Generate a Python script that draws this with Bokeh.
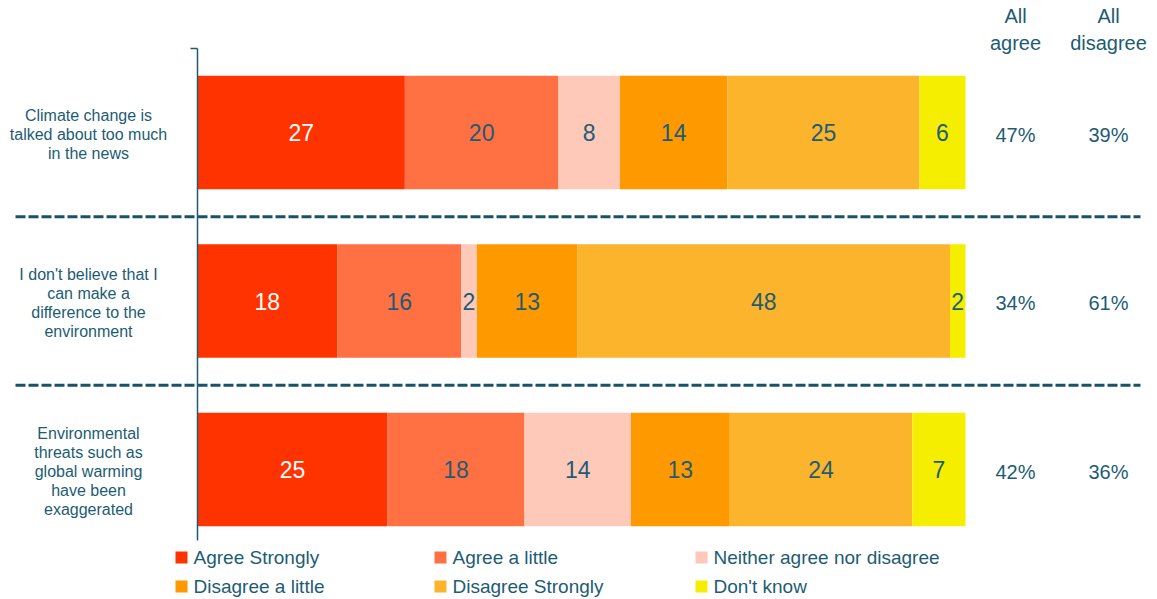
from bokeh.plotting import figure
from bokeh.models import Range1d, ColumnDataSource
from bokeh.core.properties import value
from bokeh.embed import file_html
from bokeh.resources import INLINE

# ---------------- data ----------------
statements = [
    "Climate change is\ntalked about too much\nin the news",
    "I don't believe that I\ncan make a\ndifference to the\nenvironment",
    "Environmental\nthreats such as\nglobal warming\nhave been\nexaggerated",
]
responses = ["Agree Strongly", "Agree a little", "Neither agree nor disagree",
             "Disagree a little", "Disagree Strongly", "Don't know"]
agree_strongly = [27, 18, 25]
agree_little = [20, 16, 18]
neither = [8, 2, 14]
disagree_little = [14, 13, 13]
disagree_strongly = [25, 48, 24]
dont_know = [6, 2, 7]
all_agree = [47, 34, 42]
all_disagree = [39, 61, 36]

colors = ["#FF3300", "#FF7043", "#FFC9BA", "#FF9900", "#FBB42B", "#F5EE00"]
label_colors = ["#FFFFFF", "#1D5C74", "#1D5C74", "#1D5C74", "#1D5C74", "#1D5C74"]
TEAL = "#1D5C74"
FONT = value("Liberation Sans")

series = [agree_strongly, agree_little, neither, disagree_little, disagree_strongly, dont_know]

W, H = 1157, 599
# x: 0 -> px 197, 100 -> 965
px_per_x = 7.68
x0_px = 197
# y: category 0 at px 132, spacing 168.5
px_per_y = 168.5
y0_px = 132

def xd(px):
    return (px - x0_px) / px_per_x

def yd(px):
    return (px - y0_px) / px_per_y

p = figure(width=W, height=H, output_backend="svg", toolbar_location=None,
           x_range=Range1d(xd(0), xd(W)), y_range=Range1d(yd(H), yd(0)),
           min_border=0, min_border_left=0, min_border_right=0,
           min_border_top=0, min_border_bottom=0)
p.axis.visible = False
p.grid.visible = False
p.outline_line_color = None
p.background_fill_color = "white"
p.border_fill_color = "white"

# stacked bars, normalised to 100 per statement
n = len(statements)
totals = [sum(s[i] for s in series) for i in range(n)]
left = [0.0] * n
bar_h = 0.675
for k, s in enumerate(series):
    share = [s[i] * 100.0 / totals[i] for i in range(n)]
    right = [left[i] + share[i] for i in range(n)]
    src = ColumnDataSource(dict(y=list(range(n)), left=left, right=right,
                                mid=[(left[i] + right[i]) / 2 for i in range(n)],
                                txt=[str(v) for v in s]))
    p.hbar(y="y", left="left", right="right", height=bar_h, source=src,
           fill_color=colors[k], line_color=None)
    p.text(x="mid", y="y", text="txt", source=src, text_font=FONT,
           text_font_size="23px", text_color=label_colors[k],
           text_align="center", text_baseline="middle")
    left = right

# separators between statements
for b in [0.5, 1.5]:
    p.line(x=[xd(15), xd(1140)], y=[b, b], line_color="#1A5268", line_width=3,
           line_dash="10 3")

# vertical axis line with top tick
p.line(x=[0, 0], y=[yd(48), yd(540)], line_color=TEAL, line_width=1.5)
p.line(x=[xd(190), 0], y=[yd(48), yd(48)], line_color=TEAL, line_width=1.5)

# category labels
p.text(x=[xd(88)] * n, y=[i + 0.012 for i in range(n)], text=statements, text_font=FONT,
       text_font_size="16px", text_color=TEAL, text_align="center",
       text_baseline="middle", text_line_height=1.13)

# summary columns
col_a, col_d = xd(1015), xd(1108)
p.text(x=[col_a, col_d], y=[yd(29), yd(29)], text=["All\nagree", "All\ndisagree"],
       text_font=FONT, text_font_size="20px", text_color=TEAL,
       text_align="center", text_baseline="middle", text_line_height=1.2)
p.text(x=[col_a] * n, y=[i + 0.012 for i in range(n)], text=[f"{v}%" for v in all_agree],
       text_font=FONT, text_font_size="20px", text_color=TEAL,
       text_align="center", text_baseline="middle")
p.text(x=[col_d] * n, y=[i + 0.012 for i in range(n)], text=[f"{v}%" for v in all_disagree],
       text_font=FONT, text_font_size="20px", text_color=TEAL,
       text_align="center", text_baseline="middle")

# legend (2 rows x 3 columns)
leg_cols_px = [175, 434, 695]
leg_rows_px = [557, 586]
lx, ly, lt = [], [], []
for k, name in enumerate(responses):
    r, c = divmod(k, 3)
    lx.append(xd(leg_cols_px[c] + 6))
    ly.append(yd(leg_rows_px[r]))
    lt.append(name)
p.scatter(x=lx, y=ly, marker="square", size=12, fill_color=colors,
          line_color=None)
p.text(x=[xd(leg_cols_px[k % 3] + 18) for k in range(6)], y=ly, text=lt,
       text_font=FONT, text_font_size="19px", text_color=TEAL,
       text_align="left", text_baseline="middle")

open("out.html", "w").write(file_html(p, INLINE))
